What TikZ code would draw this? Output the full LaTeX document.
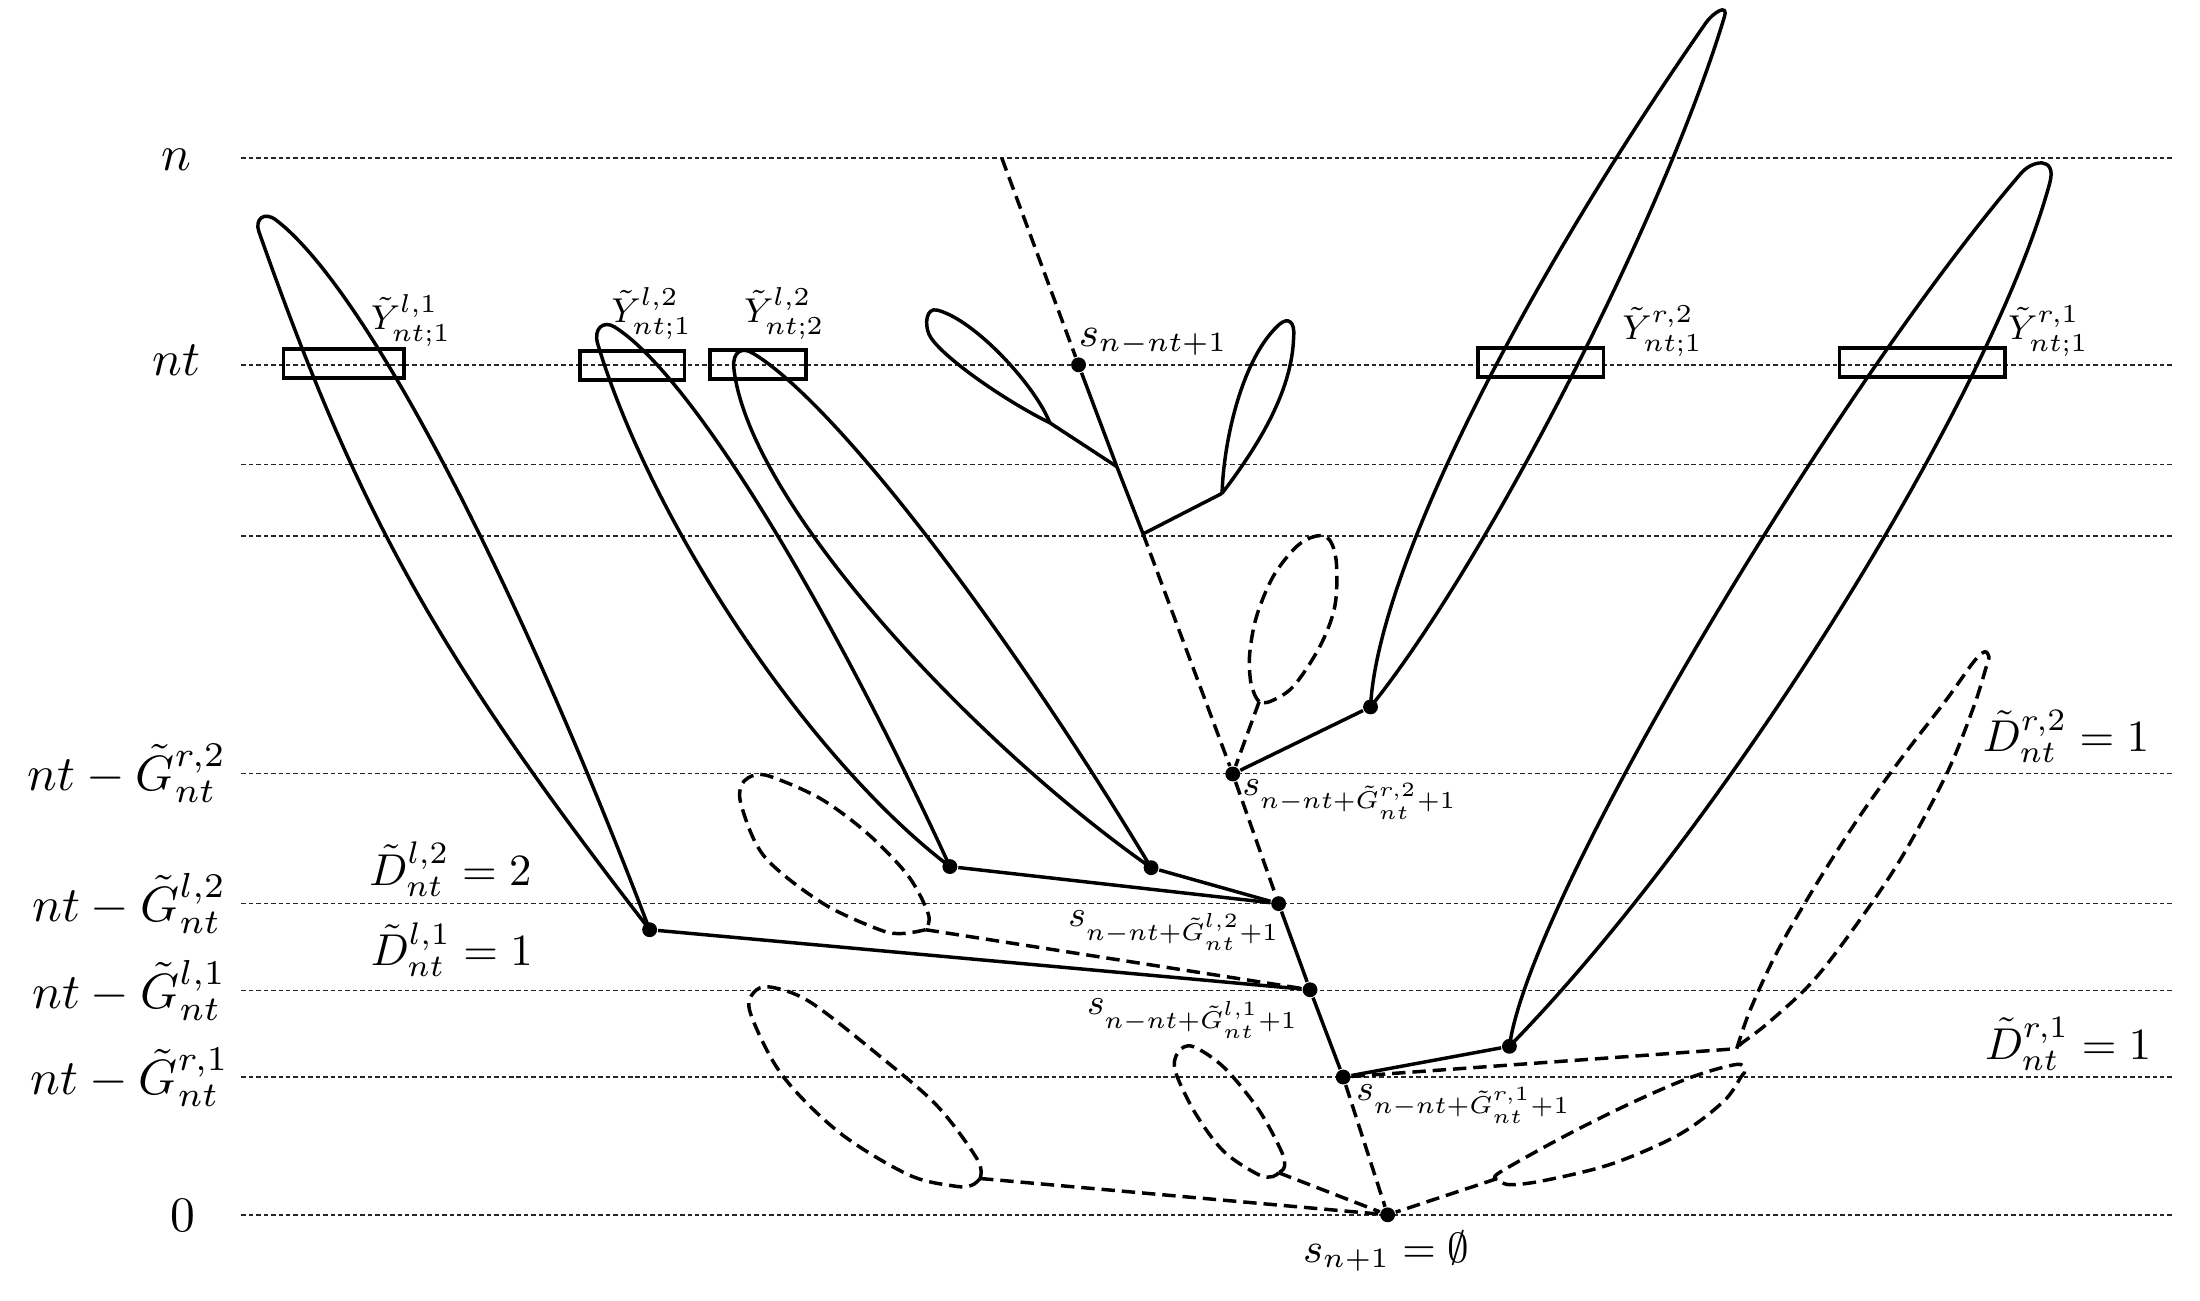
\documentclass[tikz,border=0pt]{standalone}
\begin{document}
\begin{tikzpicture}[x=0.283pt,y=-0.283pt,
  guide/.style={line width=0.35pt, dash pattern=on 0.9pt off 0.6pt, black!85},
  edge/.style={line width=0.7pt},
  dedge/.style={line width=0.7pt, dash pattern=on 2.7pt off 1.4pt},
  dot/.style={circle, fill=black, inner sep=0pt, minimum size=3pt},
  ybox/.style={draw, line width=0.7pt, rectangle, inner sep=0pt, minimum height=5.8pt},
  lbl/.style={inner sep=0pt},
  dlbl/.style={inner sep=0pt, scale=0.9},
  ylbl/.style={inner sep=0pt, font=\footnotesize, scale=0.87},
  slbl/.style={inner sep=0pt, font=\small, scale=0.94},
  sclbl/.style={inner sep=0pt, font=\small, scale=0.82},
  loopline/.style={line width=0.7pt},
  dloopline/.style={line width=0.7pt, dash pattern=on 2.7pt off 1.4pt}
]
\useasboundingbox (0,0) rectangle (1568,927);

% horizontal guide lines
\foreach \yy in {112.6,260,331,382,551.3,644,706,767.7,866}
  \draw[guide] (172,\yy) -- (1548,\yy);

% level labels
\node[lbl] (Ln) at (126,114) {$n$};
\node[lbl] (Lnt) at (125.5,256.5) {$nt$};
\node[lbl, anchor=east] (LGr2) at (162,551) {$nt-\tilde G^{r,2}_{nt}$};
\node[lbl, anchor=east] (LGl2) at (162,644) {$nt-\tilde G^{l,2}_{nt}$};
\node[lbl, anchor=east] (LGl1) at (162,706) {$nt-\tilde G^{l,1}_{nt}$};
\node[lbl, anchor=east] (LGr1) at (164,768) {$nt-\tilde G^{r,1}_{nt}$};
\node[lbl] (L0) at (130.5,866.5) {$0$};

% D labels
\node[dlbl] (Dl2) at (321,619.5) {$\tilde D^{l,2}_{nt}=2$};
\node[dlbl] (Dl1) at (322,677) {$\tilde D^{l,1}_{nt}=1$};
\node[dlbl] (Dr2) at (1472.5,525) {$\tilde D^{r,2}_{nt}=1$};
\node[dlbl] (Dr1) at (1474,744) {$\tilde D^{r,1}_{nt}=1$};

% boxes at level nt
\node[ybox, minimum width=24.3pt] (Bl1) at (245,259) {};
\node[ybox, minimum width=21.1pt] (Bl21) at (450.75,260.5) {};
\node[ybox, minimum width=19.4pt] (Bl22) at (540.25,259.75) {};
\node[ybox, minimum width=25.3pt] (Br2) at (1098.25,258.4) {};
\node[ybox, minimum width=33.4pt] (Br1) at (1370,258.4) {};

% Y labels
\node[ylbl] (Yl1) at (293,228.5) {$\tilde Y^{l,1}_{nt;1}$};
\node[ylbl] (Yl21) at (464.5,223.5) {$\tilde Y^{l,2}_{nt;1}$};
\node[ylbl] (Yl22) at (559,223.5) {$\tilde Y^{l,2}_{nt;2}$};
\node[ylbl] (Yr2) at (1185,236) {$\tilde Y^{r,2}_{nt;1}$};
\node[ylbl] (Yr1) at (1460,236) {$\tilde Y^{r,1}_{nt;1}$};

% tree vertices
\coordinate (top) at (714,112.6);
\node[dot] (s1) at (768.7,260) {};
\coordinate (j1) at (796,332.6);
\coordinate (j2) at (814.7,380.5);
\coordinate (jl) at (748.2,301.3);
\coordinate (jr) at (871,351.6);
\node[dot] (sGr2) at (878.6,551.6) {};
\coordinate (hb) at (897.4,500.1);
\node[dot] (r2) at (976.8,503.8) {};
\node[dot] (sGl2) at (911.3,644) {};
\node[dot] (a) at (677,617.6) {};
\node[dot] (b) at (820.4,618.4) {};
\node[dot] (l1) at (463,662.6) {};
\node[dot] (sGl1) at (933.7,705.4) {};
\coordinate (cb) at (659.7,662.6);
\node[dot] (sGr1) at (957.3,767.6) {};
\node[dot] (r1) at (1075.8,745.7) {};
\coordinate (fb) at (1237.8,747.4);
\node[dot] (sn) at (989,865.8) {};
\coordinate (db) at (698.5,839.9);
\coordinate (eb) at (911.3,835.8);
\coordinate (gb) at (1067,840);

% s labels
\node[slbl] (Ls1) at (822,243.5) {$s_{n-nt+1}$};
\node[sclbl] (LsGr2) at (962,570) {$s_{n-nt+\tilde G^{r,2}_{nt}+1}$};
\node[sclbl] (LsGl2) at (836.7,663.3) {$s_{n-nt+\tilde G^{l,2}_{nt}+1}$};
\node[sclbl] (LsGl1) at (850,726) {$s_{n-nt+\tilde G^{l,1}_{nt}+1}$};
\node[sclbl] (LsGr1) at (1043,787) {$s_{n-nt+\tilde G^{r,1}_{nt}+1}$};
\node[slbl] (Lsn) at (988,891.7) {$s_{n+1}=\emptyset$};

% solid edges
\draw[edge] (s1) -- (j1) -- (j2);
\draw[edge] (jl) -- (j1);
\draw[edge] (jr) -- (j2);
\draw[edge] (r2) -- (sGr2);
\draw[edge] (a) -- (sGl2);
\draw[edge] (b) -- (sGl2);
\draw[edge] (sGl2) -- (sGl1) -- (sGr1);
\draw[edge] (l1) -- (sGl1);
\draw[edge] (r1) -- (sGr1);

% dashed edges
\draw[dedge] (top) -- (s1);
\draw[dedge] (j2) -- (sGr2);
\draw[dedge] (hb) -- (sGr2);
\draw[dedge] (sGr2) -- (sGl2);
\draw[dedge] (cb) -- (sGl1);
\draw[dedge] (sGr1) -- (fb);
\draw[dedge] (sGr1) -- (sn);
\draw[dedge] (db) -- (sn);
\draw[dedge] (eb) -- (sn);
\draw[dedge] (gb) -- (sn);

% solid loops
\draw[loopline] (l1.center) .. controls (310,465) and (255,365) .. (184.5,165)
  .. controls (181.5,156.5) and (188,150) .. (197,157)
  .. controls (260,205.6) and (366,408) .. (l1.center);

\draw[loopline] (a.center) .. controls (577.8,542.4) and (464.9,374.7) .. (426,245)
  .. controls (422.8,234.3) and (430,228) .. (438,233)
  .. controls (490.3,265.7) and (585.8,419.5) .. (a.center);

\draw[loopline] (b.center) .. controls (694,530) and (533,358) .. (523,262)
  .. controls (522,251) and (528.5,246.5) .. (537,252)
  .. controls (596.8,288.2) and (719.4,450.1) .. (b.center);

\draw[loopline] (jl) .. controls (738,275) and (695,228) .. (668,221)
  .. controls (660,219) and (659,231) .. (662,238)
  .. controls (668,252) and (715,285) .. (jl);

\draw[loopline] (jr) .. controls (872,315) and (885,255) .. (912,231)
  .. controls (918,226) and (923,229) .. (922,240)
  .. controls (921,280) and (895,320) .. (jr);

\draw[loopline] (r2.center) .. controls (981.4,410.9) and (1077.1,215.8) .. (1216,16)
  .. controls (1221,9) and (1232,2) .. (1229,12)
  .. controls (1186.1,154.1) and (1060,400) .. (r2.center);

\draw[loopline] (r1.center) .. controls (1090,640) and (1310,275) .. (1440,124)
  .. controls (1448,114) and (1466,111) .. (1461,130)
  .. controls (1419.6,283.6) and (1227,591.5) .. (r1.center);

% dashed loops
\draw[dloopline] plot[smooth, tension=0.55] coordinates {(897.4,500.1) (894.3,495.3) (891.2,484.7) (890.7,465.7) (895.5,439.5) (907.3,411) (924,389.6) (938.2,382) (947.7,384.9) (952.5,401.5) (951.3,432.4) (940.6,460.9) (921.6,489.4) (904.9,500.1) (897.4,500.1)};

\draw[dloopline] plot[smooth, tension=0.55] coordinates {(659.7,662.6) (643.3,665.3) (626.9,662.6) (586,643.5) (545.1,610.8) (528.7,575.3) (528.7,559) (539,552.1) (553.3,554.9) (586,569.9) (618.7,594.4) (647.4,624.4) (661.7,651.7) (659.7,662.6)};

\draw[dloopline] plot[smooth, tension=0.55] coordinates {(698.5,839.9) (692.5,844.8) (680.2,845.3) (647.4,837.2) (598.3,807.2) (557.4,766.2) (535,722.6) (537,707.6) (549.3,703.5) (577.8,714.4) (626.9,752.6) (667.9,788.1) (696.5,826.2) (698.5,839.9)};

\draw[dloopline] plot[smooth, tension=0.55] coordinates {(911.3,835.8) (907.2,838.5) (897,837.2) (872.4,820.8) (852,793.5) (837.7,763.5) (839.7,749.9) (850,745.8) (872.4,760.8) (897,790.8) (913.4,820.8) (915.4,831.7) (911.3,835.8)};

\draw[dloopline] plot[smooth, tension=0.55] coordinates {(1237.8,747.4) (1247.3,720) (1266.4,678.8) (1291.9,634.5) (1323.7,584.3) (1355.5,539.9) (1387.3,498.6) (1406.4,472) (1414.4,464.6) (1417.5,468) (1416,474) (1406.4,504.5) (1387.3,551.7) (1355.5,610.8) (1323.7,658.2) (1291.9,699.5) (1260.1,729.1) (1241,743.8) (1237.8,747.4)};

\draw[dloopline] plot[smooth, tension=0.55] coordinates {(1067,840) (1069.1,835.4) (1116.9,808.8) (1164.6,785.2) (1206,767.5) (1237.8,758.6) (1243.5,763.1) (1240.9,767.5) (1228.2,785.2) (1196.4,808.8) (1148.7,829.5) (1100.9,841.3) (1075.5,844.3) (1067,840)};

\end{tikzpicture}
\end{document}
